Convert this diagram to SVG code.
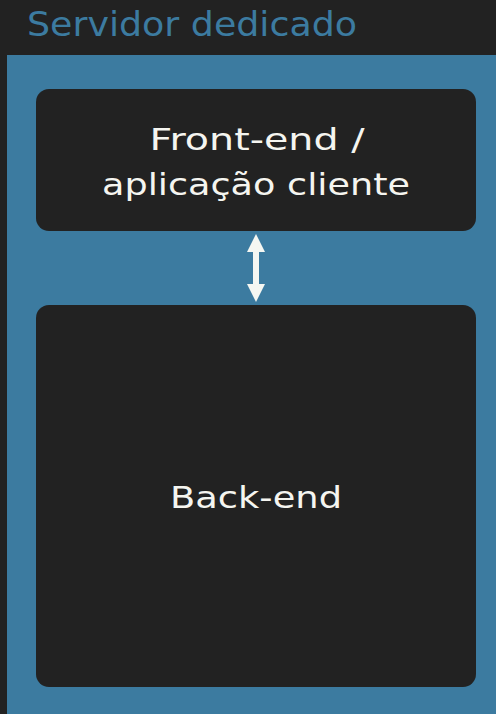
<svg xmlns="http://www.w3.org/2000/svg" width="496" height="714" viewBox="0 0 496 714">
<style>
.node{fill:#222222;}
.lbl{fill:#f5f5f0;font-family:"DejaVu Sans","Open Sans",sans-serif;font-size:31px;text-anchor:middle;}
.title{fill:#3c7ba0;font-family:"DejaVu Sans","Open Sans",sans-serif;font-size:33px;}
.conn{fill:#f5f7f2;}
</style>
<rect x="0" y="0" width="496" height="714" fill="#222222"/>
<g id="servidor">
<rect x="7" y="55" width="489" height="659" fill="#3c7ba0"/>
<text class="title" x="27" y="36" textLength="330" lengthAdjust="spacingAndGlyphs">Servidor dedicado</text>
</g>
<g id="frontend">
<rect class="node" x="36" y="89" width="440" height="142" rx="13"/>
<text class="lbl" x="257" y="150" textLength="215" lengthAdjust="spacingAndGlyphs">Front-end /</text>
<text class="lbl" x="256" y="195" textLength="308" lengthAdjust="spacingAndGlyphs">aplicação cliente</text>
</g>
<g id="backend">
<rect class="node" x="36" y="305" width="440" height="382" rx="13"/>
<text class="lbl" x="256" y="508" textLength="172" lengthAdjust="spacingAndGlyphs">Back-end</text>
</g>
<g id="connectors">
<path class="conn" d="M256,234 L265,252 L259,252 L259,284 L265,284 L256,302 L247,284 L253,284 L253,252 L247,252 Z"/>
</g>
</svg>
